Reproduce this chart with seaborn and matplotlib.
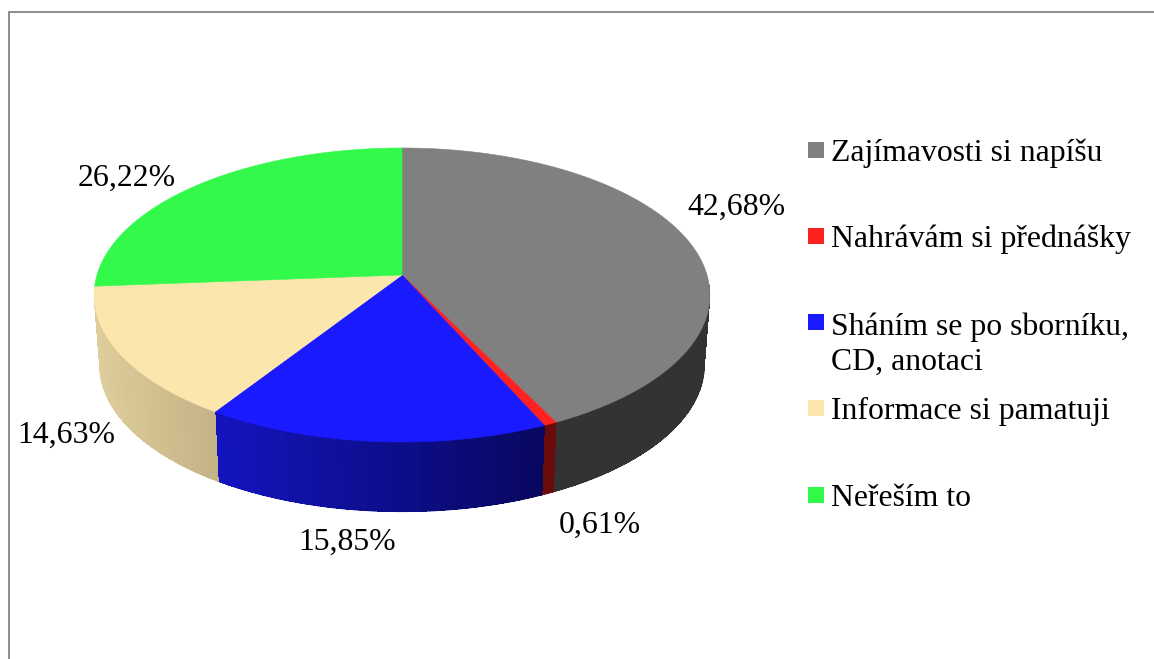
import numpy as np
import matplotlib
matplotlib.use('Agg')
import matplotlib.pyplot as plt
import matplotlib.colors as mcolors
from matplotlib.path import Path
from matplotlib.transforms import Transform, Affine2D
from matplotlib.patches import Rectangle
import seaborn as sns

categories = ['Zajímavosti si napíšu', 'Nahrávám si přednášky',
              'Sháním se po sborníku,\nCD, anotaci', 'Informace si pamatuji', 'Neřeším to']
values = [42.68, 0.61, 15.85, 14.63, 26.22]

top_colors = ['#808080', '#ff2020', '#1a1aff', '#fbe6ad', '#33f94a']
wall_left = ['#333333', '#6b0c0c', '#1414c0', '#dfcd9c', '#2aa83a']
wall_right = ['#333333', '#6b0c0c', '#08085f', '#c4b385', '#2aa83a']

sns.set_theme(style='white')
plt.rcParams['font.family'] = ['Liberation Serif', 'DejaVu Serif']

CX, CY = 402, 275
A, B, K = 305, 144.3, 0.136
DEPTH, SHRINK = 69.5, 0.982
FS = 22.9
LINE_GAP = 36.5


def project(u, v):
    # tilted disc -> pixels, near edge looks bigger
    w = 1 + K * v
    return CX + A * u / w, CY - B * v / w


class Tilt(Transform):
    input_dims = 2
    output_dims = 2
    is_affine = False

    def transform_non_affine(self, values):
        values = np.asarray(values)
        x, y = project(values[:, 0], values[:, 1])
        return np.column_stack([x, y])

    def transform_path_non_affine(self, path):
        # flatten the arcs first, bezier handles do not survive the tilt cleanly
        big = Affine2D().scale(3000).transform_path(path)
        poly = big.to_polygons(closed_only=True)[0] / 3000
        return Path(self.transform_non_affine(poly), closed=True)


fig = plt.figure(figsize=(11.54, 6.59), dpi=100, facecolor='white')
ax = fig.add_axes([0, 0, 1, 1])

# side walls, strip by strip so the shading can follow x
edges = np.concatenate([[0], np.cumsum(values)]) / sum(values) * 2 * np.pi
for i in range(len(values)):
    n = max(int((edges[i + 1] - edges[i]) / np.radians(0.5)), 1)
    ts = np.linspace(edges[i], edges[i + 1], n + 1)
    u, v = np.sin(ts), np.cos(ts)
    keep = v < -0.07
    if not keep.any():
        continue
    xt, yt = project(u, v)
    xb = CX + (xt - CX) * SHRINK
    yb = yt + DEPTH
    lo, hi = xt[keep].min(), xt[keep].max()
    c0 = np.array(mcolors.to_rgb(wall_left[i]))
    c1 = np.array(mcolors.to_rgb(wall_right[i]))
    for j in range(n):
        if not (keep[j] and keep[j + 1]):
            continue
        f = np.clip((xt[j] - lo) / max(hi - lo, 1), 0, 1)
        col = c0 + (c1 - c0) * f
        ax.fill([xt[j], xt[j + 1], xb[j + 1], xb[j]], [yt[j], yt[j + 1], yb[j + 1], yb[j]],
                color=col, lw=0, antialiased=False, zorder=1)
        ax.plot([xb[j], xb[j + 1]], [yb[j], yb[j + 1]], color=col, lw=0.8,
                solid_capstyle='round', zorder=1)

wedges, _ = ax.pie(values, colors=top_colors, startangle=90, counterclock=False,
                   wedgeprops={'linewidth': 0.4})
for w, c in zip(wedges, top_colors):
    w.set_edgecolor(c)
    w.set_transform(Tilt() + ax.transData)
    w.set_zorder(2)

ax.set_aspect('auto')
ax.set_xlim(0, 1154)
ax.set_ylim(659, 0)
ax.axis('off')

# frame: only top and left are in the picture
ax.plot([9, 9, 1154], [659, 11.5, 11.5], color='#8c8c8c', lw=1.4, zorder=0, solid_joinstyle='miter')

label_xy = [(736, 207), (600, 525), (347, 542), (66, 435), (127, 178)]
for val, (x, y) in zip(values, label_xy):
    ax.text(x, y, f'{val:.2f}%'.replace('.', ','), fontsize=FS, color='black', ha='center', va='center', zorder=3)

legend_base = [161, 247, 333, 418.5, 505.5]
for name, col, y in zip(categories, top_colors, legend_base):
    ax.add_patch(Rectangle((808, y - 19), 16, 16, facecolor=col, edgecolor='none', zorder=3))
    ax.text(831, y + LINE_GAP * name.count('\n'), name, fontsize=FS, color='black',
            ha='left', va='baseline', linespacing=1.27, zorder=3)

fig.savefig('out.png', dpi=100)
